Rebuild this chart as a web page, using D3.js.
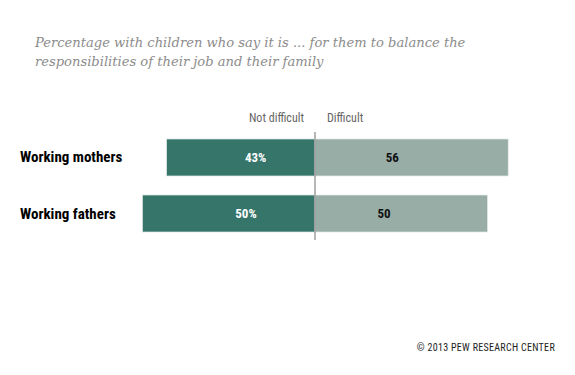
<!DOCTYPE html>
<html>
<head>
<meta charset="utf-8">
<script src="https://cdn.jsdelivr.net/npm/d3@7"></script>
<style>
  body { margin: 0; background: #fff; }
  svg { display: block; }
</style>
</head>
<body>
<div id="chart"></div>
<script>
const width = 575;
const height = 375;

// data
const groups = ["Working mothers", "Working fathers"];
const notDifficult = [43, 50];
const difficult = [56, 50];
const titleLines = [
  "Percentage with children who say it is ... for them to balance the",
  "responsibilities of their job and their family"
];

const svg = d3.select("#chart").append("svg")
    .attr("width", width)
    .attr("height", height);

const narrow = "'Liberation Sans Narrow', 'Arial Narrow', 'Roboto Condensed', sans-serif";

// title
svg.append("g").selectAll("text").data(titleLines).enter().append("text")
    .attr("x", 35)
    .attr("y", (d, i) => 47 + i * 19)
    .attr("font-family", "'DejaVu Serif', Georgia, serif")
    .attr("font-style", "italic")
    .attr("font-size", 13.1)
    .attr("fill", "#8c8c8c")
    .text(d => d);

const x = d3.scaleLinear().domain([-50, 60]).range([142.5, 522]);
const y = d3.scaleBand().domain(groups).range([139, 232]).paddingInner(0.34).paddingOuter(0);

// column headers
svg.append("text")
    .attr("x", x(0) - 11).attr("y", 122)
    .attr("text-anchor", "end")
    .attr("font-family", narrow).attr("font-size", 12)
    .attr("fill", "#666")
    .text("Not difficult");
svg.append("text")
    .attr("x", x(0) + 12).attr("y", 122)
    .attr("font-family", narrow).attr("font-size", 12)
    .attr("fill", "#666")
    .text("Difficult");

const rows = svg.append("g").selectAll("g").data(groups).enter().append("g");

rows.append("rect")
    .attr("x", (d, i) => x(-notDifficult[i]))
    .attr("y", d => y(d))
    .attr("width", (d, i) => x(0) - x(-notDifficult[i]))
    .attr("height", y.bandwidth())
    .attr("fill", "#35756a")
    .attr("stroke", "#dde5e2").attr("stroke-width", 0.7);

rows.append("rect")
    .attr("x", x(0))
    .attr("y", d => y(d))
    .attr("width", (d, i) => x(difficult[i]) - x(0))
    .attr("height", y.bandwidth())
    .attr("fill", "#97ada6")
    .attr("stroke", "#e3e9e7").attr("stroke-width", 0.7);

rows.append("text")
    .attr("x", 20)
    .attr("y", d => y(d) + y.bandwidth() / 2 + 5)
    .attr("font-family", narrow).attr("font-weight", "bold").attr("font-size", 15)
    .attr("fill", "#000")
    .text(d => d);

rows.append("text")
    .attr("x", (d, i) => x(-notDifficult[i] * 0.4))
    .attr("y", d => y(d) + y.bandwidth() / 2 + 4.5)
    .attr("text-anchor", "middle")
    .attr("font-family", narrow).attr("font-weight", "bold").attr("font-size", 13)
    .attr("fill", "#fff")
    .text((d, i) => notDifficult[i] + "%");

rows.append("text")
    .attr("x", (d, i) => x(difficult[i] * 0.4))
    .attr("y", d => y(d) + y.bandwidth() / 2 + 4.5)
    .attr("text-anchor", "middle")
    .attr("font-family", narrow).attr("font-weight", "bold").attr("font-size", 13)
    .attr("fill", "#111")
    .text((d, i) => difficult[i]);

// center line
svg.append("line")
    .attr("x1", x(0)).attr("x2", x(0))
    .attr("y1", 132).attr("y2", 240)
    .attr("stroke", "#999").attr("stroke-opacity", 0.7).attr("stroke-width", 2);

// source
svg.append("text")
    .attr("x", 555).attr("y", 351)
    .attr("text-anchor", "end")
    .attr("font-family", narrow).attr("font-size", 10)
    .attr("letter-spacing", 0.3)
    .attr("fill", "#222")
    .text("© 2013 PEW RESEARCH CENTER");
</script>
</body>
</html>
